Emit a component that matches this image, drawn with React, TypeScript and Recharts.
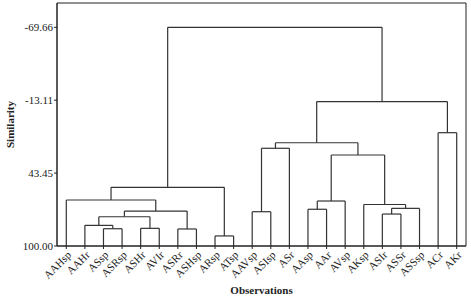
import { ComposedChart, ReferenceArea, ReferenceLine, Scatter, XAxis, YAxis } from "recharts";

// leaf order as printed along the bottom
const leaves = [
  "AAHsp", "AAHr", "ASsp", "ASRsp", "ASHr", "AVIr", "ASRr", "ASHsp", "ARsp", "ATsp", "AAVsp",
  "ASIsp", "ASr", "AAsp", "AAr", "AVsp", "AKsp", "ASIr", "ASSr", "ASSsp", "ACr", "AKr",
];

// merges: cluster ids 0..21 are leaves, merge k becomes cluster 22 + k
const mergeLeft = [2, 1, 4, 23, 6, 25, 0, 8, 28, 10, 31, 13, 33, 17, 35, 16, 34, 32, 20, 39, 30];
const mergeRight = [3, 22, 5, 24, 7, 26, 27, 9, 29, 11, 12, 14, 15, 18, 19, 36, 37, 38, 21, 40, 41];
const mergeSimilarity = [
  86.6, 84.0, 86.3, 77.3, 86.8, 72.9, 64.3, 92.2, 54.5, 73.4, 24.2, 71.5, 65.1, 75.2, 70.8, 67.8,
  29.4, 19.9, 12.1, -12.0, -69.66,
];

const yTicks = [-69.66, -13.11, 43.45, 100];
const yTickLabels = ["-69.66", "-13.11", "43.45", "100.00"];

const font = "'Liberation Serif', 'DejaVu Serif', serif";
const lineColor = "#333";

function buildSegments() {
  const pos: number[] = leaves.map((_, i) => i);
  const height: number[] = leaves.map(() => 100);
  const segs: { x: number; y: number }[][] = [];
  mergeLeft.forEach((a, k) => {
    const b = mergeRight[k];
    const h = mergeSimilarity[k];
    segs.push([{ x: pos[a], y: height[a] }, { x: pos[a], y: h }]);
    segs.push([{ x: pos[b], y: height[b] }, { x: pos[b], y: h }]);
    segs.push([{ x: pos[a], y: h }, { x: pos[b], y: h }]);
    pos.push((pos[a] + pos[b]) / 2);
    height.push(h);
  });
  return segs;
}

const leafData = leaves.map((name, i) => ({ x: i, y: 100, name }));

function XTick(props: any) {
  const { x, y, payload } = props;
  return (
    <text
      x={x}
      y={y}
      transform={`rotate(-45 ${x} ${y})`}
      textAnchor="end"
      dy={8}
      fontFamily={font}
      fontSize={11}
      fill="#222"
    >
      {leaves[payload.value]}
    </text>
  );
}

export default function App() {
  const segments = buildSegments();
  return (
    <div style={{ position: "absolute", left: 0, top: 0, background: "#fff" }}>
      <ComposedChart
        width={471}
        height={297}
        data={leafData}
        margin={{ top: 3, right: 5, bottom: 0, left: 0 }}
      >
        <XAxis
          xAxisId="b"
          dataKey="x"
          type="number"
          domain={[-0.5, 21.5]}
          ticks={leaves.map((_, i) => i)}
          interval={0}
          height={51}
          tickSize={3}
          tickMargin={1}
          stroke="#222"
          tick={<XTick />}
          label={{
            value: "Observations",
            position: "insideBottom",
            offset: 3,
            style: { fontFamily: font, fontSize: 11, fontWeight: "bold", fill: "#222" },
          }}
        />
        <YAxis
          yAxisId="l"
          type="number"
          reversed
          domain={[-88.5, 100]}
          ticks={yTicks}
          allowDataOverflow
          width={57}
          tickSize={3}
          tickMargin={1}
          stroke="#222"
          tickFormatter={(v: number) => yTickLabels[yTicks.indexOf(v)]}
          tick={{ fontFamily: font, fontSize: 11, fill: "#222" }}
          label={{
            value: "Similarity",
            angle: -90,
            position: "insideLeft",
            offset: 10,
            style: { textAnchor: "middle", fontFamily: font, fontSize: 11, fontWeight: "bold", fill: "#222" },
          }}
        />
        {/* plot frame */}
        <ReferenceArea
          xAxisId="b"
          yAxisId="l"
          x1={-0.5}
          x2={21.5}
          y1={-88.5}
          y2={100}
          fill="none"
          fillOpacity={0}
          stroke="#222"
          strokeWidth={1}
          ifOverflow="visible"
        />
        <Scatter xAxisId="b" yAxisId="l" dataKey="y" fill="none" isAnimationActive={false} shape={() => <g />} />
        {segments.map((s, i) => (
          <ReferenceLine
            key={i}
            xAxisId="b"
            yAxisId="l"
            segment={s}
            stroke={lineColor}
            strokeWidth={1.2}
            ifOverflow="visible"
          />
        ))}
      </ComposedChart>
    </div>
  );
}
